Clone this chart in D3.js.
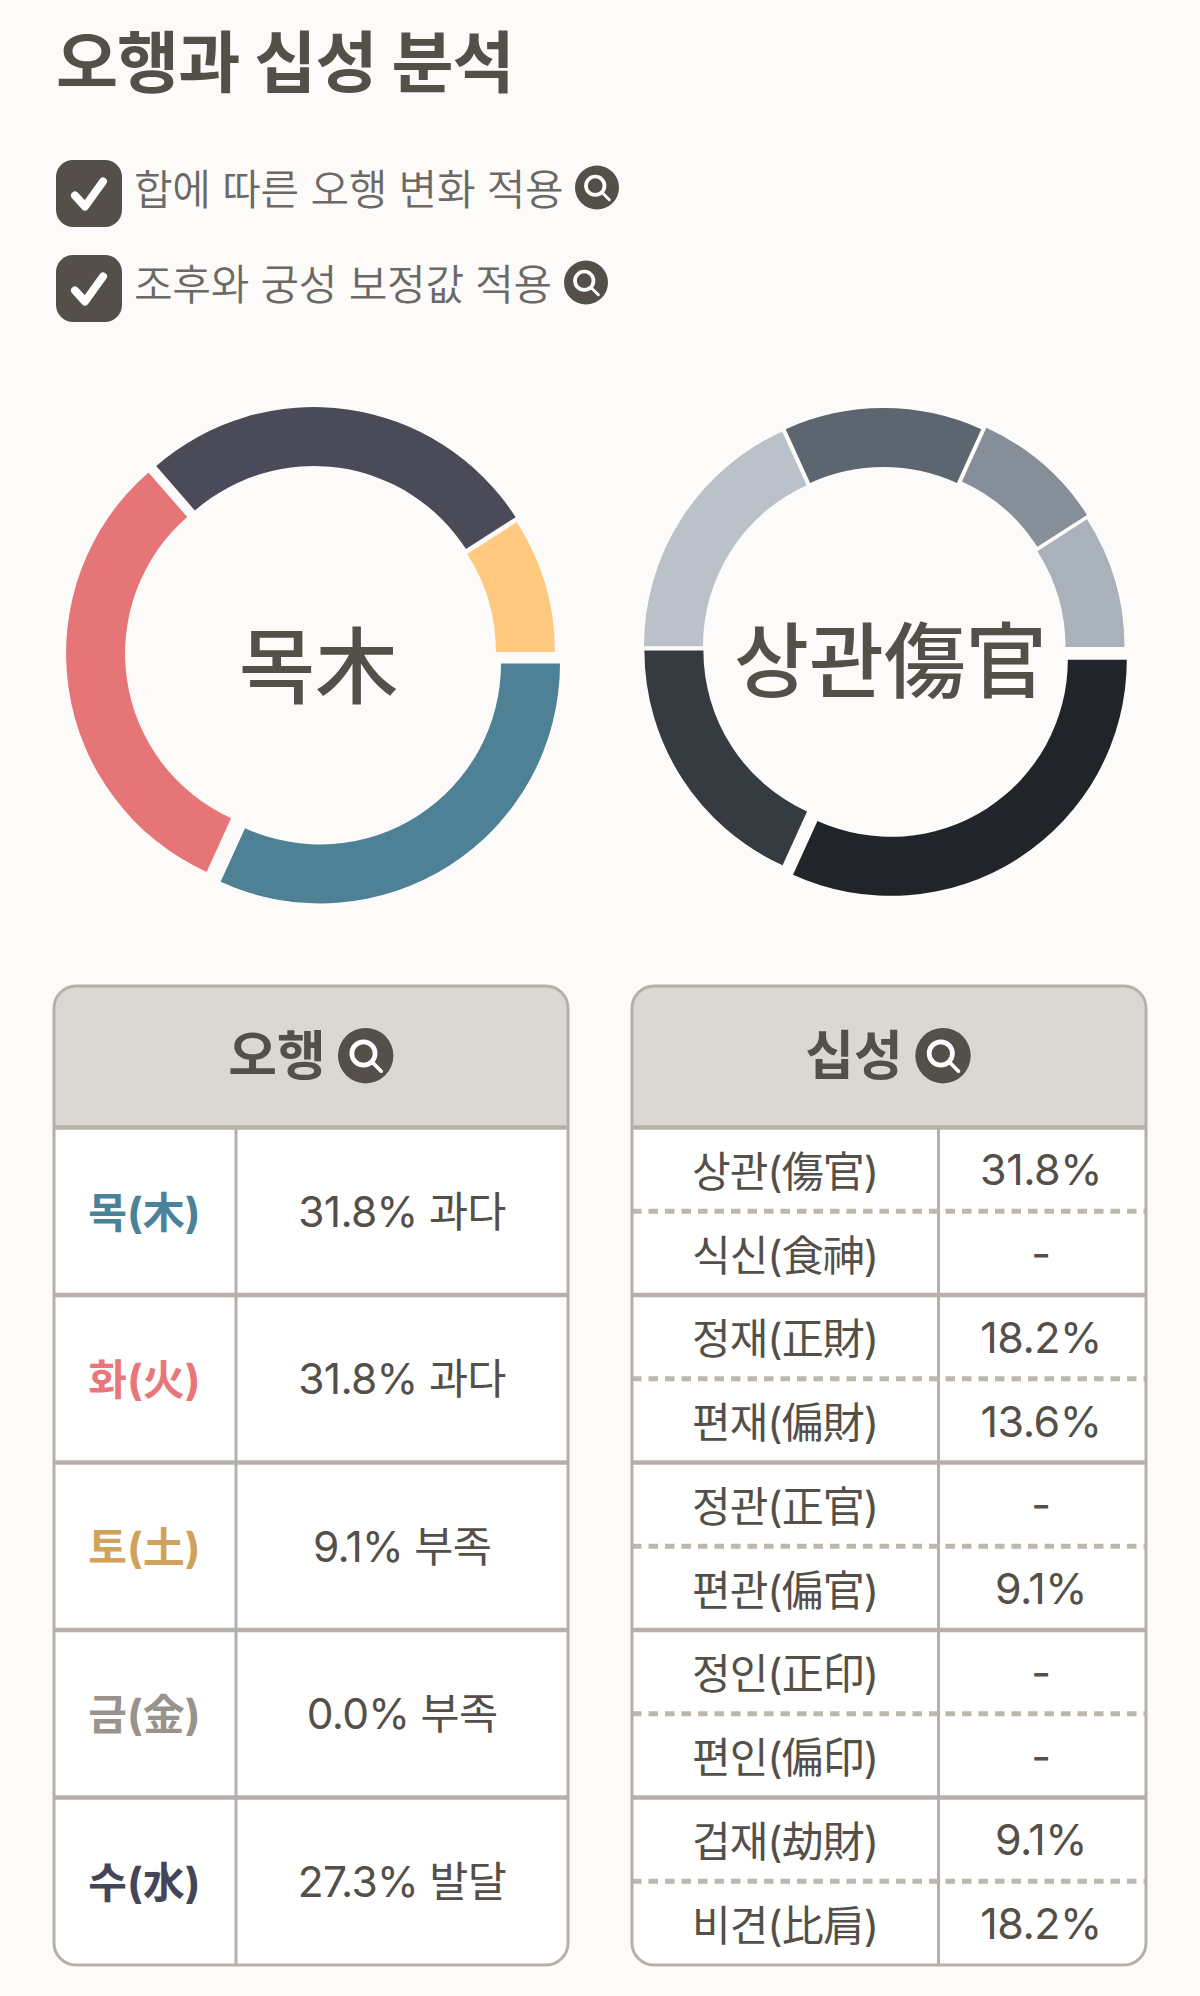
<!DOCTYPE html>
<html lang="ko">
<head>
<meta charset="utf-8">
<script src="https://cdnjs.cloudflare.com/ajax/libs/d3/7.8.5/d3.min.js"></script>
<style>
  html, body { margin: 0; padding: 0; background: #fdfbf9; }
  svg { display: block; }
  text { font-family: Inter, "Noto Sans CJK KR", sans-serif; }
</style>
</head>
<body>
<svg id="chart" width="1200" height="1996"></svg>
<script>
// data
const titleText = '오행과 십성 분석';
const optionLabels = ['합에 따른 오행 변화 적용', '조후와 궁성 보정값 적용'];

const elementNames = ['목(木)', '화(火)', '토(土)', '금(金)', '수(水)'];
const elementShare = [31.8, 31.8, 9.1, 0.0, 27.3];
const elementStatus = ['과다', '과다', '부족', '부족', '발달'];
const elementColors = ['#4e8196', '#e67578', '#ffca7f', '#a09b94', '#4b4a58'];
const elementTextColors = ['#4a8299', '#e8777a', '#cfa35c', '#98938c', '#45455a'];

const godNames = ['상관(傷官)', '식신(食神)', '정재(正財)', '편재(偏財)', '정관(正官)', '편관(偏官)', '정인(正印)', '편인(偏印)', '겁재(劫財)', '비견(比肩)'];
const godShare = [31.8, 0, 18.2, 13.6, 0, 9.1, 0, 0, 9.1, 18.2];

// shade follows the size rank of a slice, not the ten god it stands for
const godRankColors = ['#212428', '#363b42', '#bac1c8', '#5b6670', '#868f99', '#a9b2ba'];

// how far each slice is pulled out of the ring, by rank
const elementPull = [13, 7, 5.5, 2];
const godPull = [13.5, 3.7, 4.2, 4.5, 7.75, 5.2];

const ink = '#544f49';
const line = '#b5b0a9';

const svg = d3.select('#chart');

// header
svg.append('text')
    .attr('x', 56).attr('y', 62)
    .attr('dominant-baseline', 'central')
    .attr('font-size', 67.5).attr('font-weight', 700)
    .attr('letter-spacing', -1)
    .attr('fill', ink)
    .text(titleText);

function searchIcon(cx, cy, r) {
    const g = svg.append('g').attr('transform', `translate(${cx},${cy})`);
    g.append('circle').attr('r', r).attr('fill', ink);
    g.append('circle')
        .attr('cx', -0.08 * r).attr('cy', -0.08 * r).attr('r', 0.42 * r)
        .attr('fill', 'none').attr('stroke', '#fff').attr('stroke-width', 0.17 * r);
    g.append('line')
        .attr('x1', 0.25 * r).attr('y1', 0.25 * r).attr('x2', 0.56 * r).attr('y2', 0.56 * r)
        .attr('stroke', '#fff').attr('stroke-width', 0.13 * r).attr('stroke-linecap', 'round');
}

const optionIconX = [597, 586];
const optionY = d3.scaleLinear().domain([0, 1]).range([193.5, 288.5]);

optionLabels.forEach((label, i) => {
    const y = optionY(i);
    svg.append('rect')
        .attr('x', 56).attr('y', y - 33.5)
        .attr('width', 66).attr('height', 67)
        .attr('rx', 17)
        .attr('fill', ink);
    svg.append('path')
        .attr('d', `M75,${y + 2} L85,${y + 13} L103,${y - 12}`)
        .attr('fill', 'none').attr('stroke', '#fff')
        .attr('stroke-width', 8).attr('stroke-linecap', 'round').attr('stroke-linejoin', 'round');
    svg.append('text')
        .attr('x', 134).attr('y', y - 4)
        .attr('dominant-baseline', 'central')
        .attr('font-size', 42).attr('font-weight', 350)
        .attr('letter-spacing', -0.3)
        .attr('fill', '#6b6966')
        .text(label);
    searchIcon(optionIconX[i], y - 6, 22);
});

// rings
function drawRing(cx, cy, outer, inner, names, values, colorOf, pull, labelText, labelX, labelY, labelSize) {
    const pie = d3.pie()
        .value(d => d.value)
        .startAngle(Math.PI / 2)
        .endAngle(Math.PI * 2.5);
    const arc = d3.arc().innerRadius(inner).outerRadius(outer);
    const rows = names.map((name, i) => ({ name, value: values[i], index: i })).filter(d => d.value > 0);

    const g = svg.append('g').attr('transform', `translate(${cx},${cy})`);
    // d.index is the slice's rank around the ring, d.data.index its row in the table
    g.selectAll('path')
        .data(pie(rows))
        .enter().append('path')
        .attr('d', arc)
        .attr('fill', d => colorOf(d))
        .attr('transform', d => {
            const mid = (d.startAngle + d.endAngle) / 2;
            return `translate(${Math.sin(mid) * pull[d.index]},${-Math.cos(mid) * pull[d.index]})`;
        });

    svg.append('text')
        .attr('x', labelX).attr('y', labelY)
        .attr('text-anchor', 'middle').attr('dominant-baseline', 'central')
        .attr('font-size', labelSize).attr('font-weight', 500)
        .attr('fill', ink)
        .text(labelText);
}

drawRing(313, 652.5, 240, 181, elementNames, elementShare,
    d => elementColors[d.data.index], elementPull, '목木', 318.5, 667, 83);
drawRing(883.5, 648.5, 236, 177, godNames, godShare,
    d => godRankColors[d.index], godPull, '상관傷官', 890.5, 661, 81.5);

// tables
function drawTable(x0, x1, splitX, title, titleX, iconX, rowCount) {
    const top = 986, headBottom = 1127.5, bottom = 1965;
    const id = 'clip' + x0;
    svg.append('clipPath').attr('id', id).append('rect')
        .attr('x', x0).attr('y', top).attr('width', x1 - x0).attr('height', bottom - top).attr('rx', 22);

    const g = svg.append('g');
    const body = g.append('g').attr('clip-path', `url(#${id})`);
    body.append('rect').attr('x', x0).attr('y', top).attr('width', x1 - x0).attr('height', bottom - top).attr('fill', '#fff');
    body.append('rect').attr('x', x0).attr('y', top).attr('width', x1 - x0).attr('height', headBottom - top).attr('fill', '#dbd8d3');
    body.append('line')
        .attr('x1', splitX).attr('x2', splitX).attr('y1', headBottom).attr('y2', bottom)
        .attr('stroke', line).attr('stroke-width', 3);

    const rowY = d3.scaleLinear().domain([0, rowCount]).range([headBottom, bottom]);
    d3.range(0, rowCount).forEach(i => {
        const every = rowCount / 5;
        const solid = i % every === 0;
        body.append('line')
            .attr('x1', x0).attr('x2', x1)
            .attr('y1', rowY(i)).attr('y2', rowY(i))
            .attr('stroke', solid ? line : '#bcb8b1')
            .attr('stroke-width', solid ? 4.5 : 5)
            .attr('stroke-dasharray', solid ? null : '9.5,7');
    });
    g.append('rect').attr('x', x0).attr('y', top).attr('width', x1 - x0).attr('height', bottom - top)
        .attr('rx', 22).attr('fill', 'none').attr('stroke', line).attr('stroke-width', 3);

    g.append('text')
        .attr('x', titleX).attr('y', 1056)
        .attr('text-anchor', 'middle').attr('dominant-baseline', 'central')
        .attr('font-size', 53).attr('font-weight', 700)
        .attr('fill', ink)
        .text(title);
    searchIcon(iconX, 1055.7, 27.7);
    return rowY;
}

const fmt = d3.format('.1f');

const elementY = drawTable(54, 568, 236, '오행', 277, 365.7, 5);
elementNames.forEach((name, i) => {
    const y = (elementY(i) + elementY(i + 1)) / 2;
    svg.append('text')
        .attr('x', 144.5).attr('y', y + 1)
        .attr('text-anchor', 'middle').attr('dominant-baseline', 'central')
        .attr('font-size', 42).attr('font-weight', 700)
        .attr('fill', elementTextColors[i])
        .text(name);
    svg.append('text')
        .attr('x', 402).attr('y', y)
        .attr('text-anchor', 'middle').attr('dominant-baseline', 'central')
        .attr('font-size', 42.5).attr('font-weight', 400)
        .attr('letter-spacing', -0.7)
        .attr('fill', ink)
        .text(`${fmt(elementShare[i])}% ${elementStatus[i]}`);
});

const godY = drawTable(632, 1146, 938.5, '십성', 854, 943, 10);
godNames.forEach((name, i) => {
    const y = (godY(i) + godY(i + 1)) / 2;
    svg.append('text')
        .attr('x', 785).attr('y', y + 2)
        .attr('text-anchor', 'middle').attr('dominant-baseline', 'central')
        .attr('font-size', 42).attr('font-weight', 400)
        .attr('letter-spacing', -1)
        .attr('fill', ink)
        .text(name);
    svg.append('text')
        .attr('x', 1041).attr('y', y)
        .attr('text-anchor', 'middle').attr('dominant-baseline', 'central')
        .attr('font-size', 43).attr('font-weight', 400)
        .attr('letter-spacing', -0.5)
        .attr('fill', ink)
        .text(godShare[i] > 0 ? `${fmt(godShare[i])}%` : '-');
});
</script>
</body>
</html>
